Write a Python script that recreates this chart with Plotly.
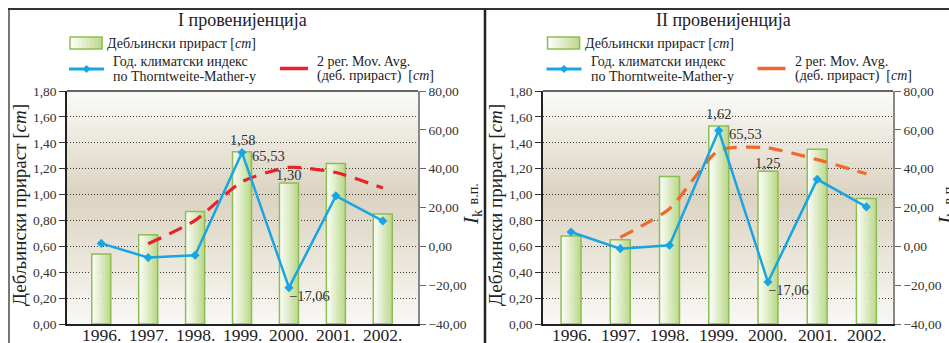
import plotly.graph_objects as go

W, H = 949, 343

# ---------------- data ----------------
years = ["1996", "1997", "1998", "1999", "2000", "2001", "2002"]
year_labels = ["1996.", "1997.", "1998.", "1999.", "2000.", "2001.", "2002."]
inc_1 = [0.54, 0.69, 0.87, 1.33, 1.09, 1.24, 0.85]
ik_1 = [1.5, -5.8, -4.6, 48.3, -21.3, 26.0, 13.1]
ma_1 = [None, 0.62, 0.80, 1.10, 1.21, 1.17, 1.05]
inc_2 = [0.68, 0.65, 1.14, 1.53, 1.18, 1.35, 0.97]
ik_2 = [7.4, -1.2, 0.5, 59.6, -18.4, 34.5, 20.3]
ma_2 = [None, 0.67, 0.89, 1.34, 1.36, 1.27, 1.16]
titles = ["I провенијенција", "II провенијенција"]
lbl_top = ["1,58", "1,62"]
lbl_ik_max = ["65,53", "65,53"]
lbl_2000 = ["1,30", "1,25"]
lbl_ik_min = ["\u221217,06", "\u221217,06"]
left_ticks = [0.0, 0.2, 0.4, 0.6, 0.8, 1.0, 1.2, 1.4, 1.6, 1.8]
right_ticks = [-40, -20, 0, 20, 40, 60, 80]
ma_colors = ["#e8212b", "#f0692a"]
legend_bar = "Дебљински прираст [<i>cm</i>]"
legend_ik = ["Год. климатски индекс", "по Thorntweite-Mather-у"]
legend_ma = ["2 рег. Mov. Avg.", "(деб. прираст)  [<i>cm</i>]"]
ytitle_left = "Дебљински прираст [<i>cm</i>]"
ytitle_right = "<i>I</i><sub>k</sub> <span style='font-size:14px'>в.п.</span>"

FONT = "Liberation Serif, Times New Roman, serif"
BLUE = "#19a5e1"
GREEN_LINE = "#8dbe52"


def px(x):
    return x / W


def py(y):
    return 1 - y / H


def mix(c1, c2, t):
    a = [int(c1[i:i + 2], 16) for i in (1, 3, 5)]
    b = [int(c2[i:i + 2], 16) for i in (1, 3, 5)]
    return "#%02x%02x%02x" % tuple(round(a[k] + (b[k] - a[k]) * t) for k in range(3))


panels = [
    dict(inc=inc_1, ik=ik_1, ma=ma_1, x0=67, x1=418, xr=[-0.73, 6.75], off=0, tx=243),
    dict(inc=inc_2, ik=ik_2, ma=ma_2, x0=543, x1=893, xr=[-0.57, 6.54], off=476, tx=723),
]
Y0, Y1 = 91, 324
BW = 0.405
NSTRIP = 10
i_max = years.index("1999")
i_min = years.index("2000")

fig = go.Figure()
shapes = []
annotations = []

for p_i, p in enumerate(panels):
    xa = "x" if p_i == 0 else "x2"
    ya = "y" if p_i == 0 else "y3"
    ya2 = "y2" if p_i == 0 else "y4"
    # gradient bars (strips)
    for s in range(NSTRIP):
        t = (s + 0.5) / NSTRIP
        col = mix("#ffffff", "#bcd98c", min(1.0, t * 1.05))
        fig.add_trace(go.Bar(
            x=years, y=p["inc"], xaxis=xa, yaxis=ya,
            width=BW / NSTRIP * 1.15, offset=-BW / 2 + s * BW / NSTRIP,
            marker=dict(color=col, line=dict(width=0)),
            showlegend=False, hoverinfo="skip"))
    fig.add_trace(go.Bar(
        x=years, y=p["inc"], xaxis=xa, yaxis=ya, width=BW, offset=-BW / 2,
        marker=dict(color="rgba(0,0,0,0)", line=dict(color=GREEN_LINE, width=1.5)),
        showlegend=False))
    # moving average
    fig.add_trace(go.Scatter(
        x=years, y=p["ma"], xaxis=xa, yaxis=ya, mode="lines",
        line=dict(color=ma_colors[p_i], width=3.2, dash="14px,9px",
                  shape="spline", smoothing=0.6),
        showlegend=False))
    # climate index
    fig.add_trace(go.Scatter(
        x=years, y=p["ik"], xaxis=xa, yaxis=ya2, mode="lines+markers",
        line=dict(color=BLUE, width=2.5),
        marker=dict(symbol="diamond", size=7, color=BLUE),
        showlegend=False))

    # background gradient in plot area
    NB = 36
    for k in range(NB):
        v0 = 1.8 * k / NB
        v1 = 1.8 * (k + 1) / NB
        vm = (v0 + v1) / 2
        if vm >= 1.0:
            col = mix("#dbd3c0", "#fbfbf9", (vm - 1.0) / 0.8)
        else:
            col = mix("#f9f8f5", "#dbd3c0", vm / 1.0)
        shapes.append(dict(type="rect", xref=xa + " domain", yref=ya,
                           x0=0, x1=1, y0=v0, y1=min(1.8, v1 + 0.012), layer="below",
                           line=dict(width=0), fillcolor=col))
    # top border of plot
    shapes.append(dict(type="line", xref=xa + " domain", yref=ya + " domain",
                       x0=0, x1=1, y0=1, y1=1, line=dict(color="#333333", width=1.5)))

    # category labels under the axis
    for i, lab in enumerate(year_labels):
        annotations.append(dict(x=i, y=py(323), xref=xa, yref="paper", yanchor="top",
                                xanchor="center", text=lab, showarrow=False,
                                font=dict(family=FONT, size=17.5, color="#222")))

    # data labels (x given as category index)
    lf = dict(family=FONT, size=14.5, color="#333")
    annotations += [
        dict(x=i_max, y=p["inc"][i_max], xref=xa, yref=ya, text=lbl_top[p_i],
             showarrow=False, yshift=12, font=lf),
        dict(x=i_max, y=p["ik"][i_max], xref=xa, yref=ya2, text=lbl_ik_max[p_i],
             showarrow=False, xanchor="left", xshift=8, yshift=-3, font=lf),
        dict(x=i_min, y=p["inc"][i_min], xref=xa, yref=ya, text=lbl_2000[p_i],
             showarrow=False, yshift=8, font=lf),
        dict(x=i_min, y=p["ik"][i_min], xref=xa, yref=ya2, text=lbl_ik_min[p_i],
             showarrow=False, xanchor="left", xshift=-2, yshift=-8, font=lf),
    ]

    o = p["off"]
    # title
    annotations.append(dict(x=px(p["tx"]), y=py(20), xref="paper", yref="paper",
                            xanchor="center", yanchor="middle", text=titles[p_i], showarrow=False,
                            font=dict(family=FONT, size=18, color="#222")))
    # y axis titles
    annotations.append(dict(x=px(19 + o), y=py(205), xref="paper", yref="paper",
                            xanchor="center", yanchor="middle",
                            text=ytitle_left, textangle=-90, showarrow=False,
                            font=dict(family=FONT, size=19, color="#222")))
    annotations.append(dict(x=px(p["x1"] + 54), y=py(204), xref="paper", yref="paper",
                            xanchor="center", yanchor="middle",
                            text=ytitle_right, textangle=-90, showarrow=False,
                            font=dict(family=FONT, size=21, color="#222")))

    # legend
    lx = 70 if p_i == 0 else 547.5
    for s in range(8):
        t = (s + 0.5) / 8
        shapes.append(dict(type="rect", xref="paper", yref="paper",
                           x0=px(lx + s * 32 / 8), x1=px(lx + (s + 1.2) * 32 / 8),
                           y0=py(49), y1=py(37), line=dict(width=0),
                           fillcolor=mix("#ffffff", "#bcd98c", t)))
    shapes.append(dict(type="rect", xref="paper", yref="paper",
                       x0=px(lx), x1=px(lx + 32), y0=py(49), y1=py(37),
                       line=dict(color=GREEN_LINE, width=1.5)))
    annotations.append(dict(x=px(lx + 35), y=py(43), xref="paper", yref="paper",
                            xanchor="left", yanchor="middle", text=legend_bar, showarrow=False,
                            font=dict(family=FONT, size=14, color="#222")))
    bx = lx - 1
    shapes.append(dict(type="line", xref="paper", yref="paper",
                       x0=px(bx), x1=px(bx + 35), y0=py(69), y1=py(69),
                       line=dict(color=BLUE, width=3)))
    cx, cy = bx + 17.5, 69
    shapes.append(dict(type="path", xref="paper", yref="paper",
                       path="M %f,%f L %f,%f L %f,%f L %f,%f Z" % (
                           px(cx), py(cy - 4), px(cx + 4), py(cy), px(cx), py(cy + 4), px(cx - 4), py(cy)),
                       fillcolor=BLUE, line=dict(width=0)))
    for j, yy in enumerate([61, 76]):
        annotations.append(dict(x=px(lx + 41), y=py(yy), xref="paper", yref="paper",
                                xanchor="left", yanchor="middle", text=legend_ik[j], showarrow=False,
                                font=dict(family=FONT, size=14, color="#222")))
    rx = lx + 210
    shapes.append(dict(type="line", xref="paper", yref="paper",
                       x0=px(rx), x1=px(rx + 28), y0=py(68.5), y1=py(68.5),
                       line=dict(color=ma_colors[p_i], width=3.5)))
    for j, yy in enumerate([61, 76]):
        annotations.append(dict(x=px(rx + 35), y=py(yy), xref="paper", yref="paper",
                                xanchor="left", yanchor="middle", text=legend_ma[j], showarrow=False,
                                font=dict(family=FONT, size=14, color="#222")))

# panel frames
shapes += [
    dict(type="line", xref="paper", yref="paper", x0=px(9), x1=px(9), y0=py(9), y1=py(343),
         line=dict(color="#777777", width=2)),
    dict(type="line", xref="paper", yref="paper", x0=px(8), x1=px(949), y0=py(9), y1=py(9),
         line=dict(color="#333333", width=2)),
    dict(type="line", xref="paper", yref="paper", x0=px(485), x1=px(485), y0=py(9), y1=py(343),
         line=dict(color="#222222", width=2.5)),
]

tickfont = dict(family=FONT, size=13.5, color="#333")


def xaxis_cfg(p, anchor):
    return dict(domain=[px(p["x0"]), px(p["x1"])], type="category", range=p["xr"],
                anchor=anchor, showticklabels=False, automargin=False,
                showline=True, linecolor="#222", linewidth=2, ticks="",
                showgrid=False, zeroline=False, fixedrange=True)


def yleft_cfg(anchor):
    return dict(domain=[py(Y1), py(Y0)], anchor=anchor, range=[0, 1.8], automargin=False,
                tickvals=left_ticks, tickformat=".2f", ticks="outside", ticklen=6,
                tickcolor="#333", showline=True, linecolor="#222", linewidth=1.5,
                showgrid=True, gridcolor="#3a3a3a", griddash="1px,2px", gridwidth=1,
                zeroline=False, tickfont=tickfont)


def yright_cfg(anchor, over):
    return dict(overlaying=over, side="right", anchor=anchor, range=[-40, 80], automargin=False,
                tickvals=right_ticks, tickformat=".2f", ticks="outside", ticklen=6,
                tickcolor="#666", showline=True, linecolor="#888", linewidth=1.5,
                showgrid=False, zeroline=False, tickfont=tickfont)


fig.update_layout(
    width=W, height=H, margin=dict(l=0, r=0, t=0, b=0, autoexpand=False),
    paper_bgcolor="white", plot_bgcolor="white",
    separators=",.", barmode="overlay", showlegend=False,
    font=dict(family=FONT),
    xaxis=xaxis_cfg(panels[0], "y"), xaxis2=xaxis_cfg(panels[1], "y3"),
    yaxis=yleft_cfg("x"), yaxis2=yright_cfg("x", "y"),
    yaxis3=yleft_cfg("x2"), yaxis4=yright_cfg("x2", "y3"),
    shapes=shapes, annotations=annotations,
)

fig.write_html("out.html", config={"displayModeBar": False},
               post_script="document.body.style.margin='0px';")
